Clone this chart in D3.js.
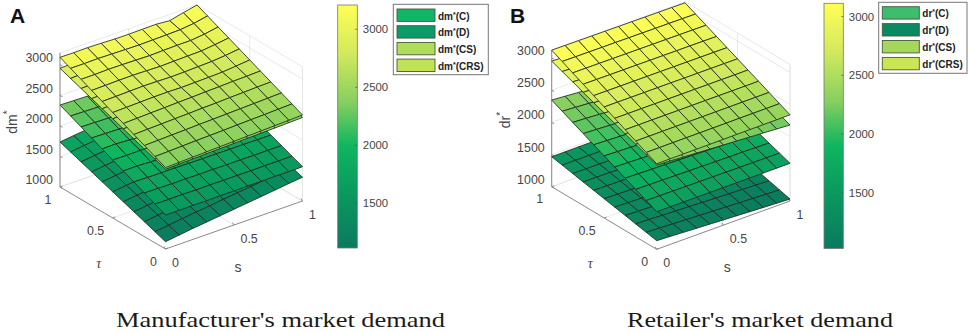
<!DOCTYPE html>
<html>
<head>
<meta charset="utf-8">
<style>
html, body { margin: 0; padding: 0; background: #fff; }
svg { display: block; font-family: "Liberation Sans", Arial, sans-serif; }
</style>
<script src="https://cdn.jsdelivr.net/npm/d3@7"></script>
</head>
<body>
<svg id="viz"></svg>
<script>
var width = 969;
var height = 332;

var sVals = [0, 0.1, 0.2, 0.3, 0.4, 0.5, 0.6, 0.7, 0.8, 0.9, 1];
var tauVals = [0, 0.1, 0.2, 0.3, 0.4, 0.5, 0.6, 0.7, 0.8, 0.9, 1];
var planeTicks = [0, 0.5, 1];
var zTicks = [1000, 1500, 2000, 2500, 3000];
var cbarTicks = [1500, 2000, 2500, 3000];

// rows go by tau, columns by s. values
var dmD = [
	[1120, 1150, 1180, 1205, 1232, 1258, 1285, 1310, 1338, 1365, 1389],
	[1182, 1208, 1240, 1268, 1290, 1320, 1346, 1370, 1400, 1425, 1450],
	[1244, 1272, 1298, 1330, 1354, 1380, 1408, 1430, 1460, 1485, 1511],
	[1306, 1332, 1364, 1388, 1416, 1442, 1468, 1492, 1520, 1545, 1571],
	[1368, 1396, 1420, 1450, 1476, 1502, 1528, 1552, 1580, 1605, 1631],
	[1429, 1456, 1484, 1510, 1536, 1562, 1588, 1612, 1640, 1665, 1690],
	[1491, 1518, 1544, 1570, 1596, 1622, 1648, 1672, 1700, 1725, 1750],
	[1553, 1580, 1606, 1632, 1658, 1684, 1710, 1734, 1760, 1785, 1810],
	[1615, 1642, 1668, 1694, 1720, 1746, 1770, 1795, 1820, 1845, 1870],
	[1676, 1703, 1729, 1755, 1781, 1806, 1831, 1855, 1881, 1905, 1930],
	[1738, 1764, 1790, 1816, 1842, 1866, 1892, 1916, 1942, 1966, 1990]
];
var dmC = [
	[1557, 1555, 1558, 1556, 1560, 1558, 1561, 1559, 1562, 1560, 1562],
	[1636, 1632, 1635, 1630, 1634, 1630, 1632, 1630, 1633, 1631, 1634],
	[1715, 1712, 1708, 1710, 1706, 1708, 1704, 1706, 1703, 1705, 1705],
	[1794, 1790, 1786, 1788, 1783, 1780, 1782, 1778, 1780, 1776, 1777],
	[1873, 1875, 1864, 1862, 1860, 1858, 1856, 1854, 1852, 1850, 1848],
	[1951, 1947, 1950, 1940, 1936, 1932, 1930, 1928, 1925, 1922, 1920],
	[2030, 2035, 2020, 2016, 2012, 2008, 2004, 2001, 1997, 1994, 1991],
	[2109, 2103, 2098, 2094, 2089, 2085, 2081, 2077, 2073, 2069, 2063],
	[2188, 2182, 2176, 2171, 2166, 2162, 2157, 2153, 2149, 2145, 2134],
	[2266, 2260, 2254, 2248, 2243, 2238, 2233, 2229, 2225, 2221, 2206],
	[2344, 2338, 2332, 2326, 2320, 2315, 2310, 2305, 2300, 2295, 2277]
];
var dmCS = [
	[2307, 2313, 2320, 2326, 2332, 2338, 2344, 2350, 2356, 2363, 2369],
	[2371, 2378, 2384, 2390, 2397, 2403, 2409, 2415, 2422, 2428, 2435],
	[2435, 2442, 2448, 2455, 2461, 2467, 2474, 2480, 2487, 2493, 2500],
	[2499, 2506, 2512, 2519, 2526, 2532, 2539, 2545, 2552, 2559, 2566],
	[2563, 2570, 2577, 2584, 2590, 2597, 2604, 2611, 2617, 2624, 2631],
	[2627, 2634, 2641, 2648, 2655, 2662, 2669, 2676, 2683, 2690, 2697],
	[2690, 2698, 2705, 2712, 2720, 2727, 2734, 2741, 2749, 2756, 2763],
	[2754, 2762, 2770, 2777, 2784, 2792, 2799, 2807, 2814, 2822, 2829],
	[2818, 2826, 2834, 2842, 2849, 2857, 2865, 2872, 2880, 2887, 2895],
	[2882, 2890, 2898, 2906, 2914, 2922, 2930, 2938, 2946, 2953, 2961],
	[2946, 2954, 2962, 2970, 2979, 2987, 2995, 3003, 3011, 3019, 3027]
];
var dmCRS = [
	[2335, 2342, 2350, 2357, 2365, 2372, 2380, 2387, 2395, 2402, 2410],
	[2414, 2421, 2429, 2438, 2444, 2450, 2460, 2467, 2473, 2482, 2489],
	[2493, 2500, 2509, 2515, 2524, 2530, 2538, 2545, 2552, 2560, 2568],
	[2572, 2580, 2587, 2595, 2601, 2611, 2616, 2626, 2632, 2641, 2647],
	[2651, 2658, 2667, 2673, 2682, 2688, 2697, 2703, 2712, 2717, 2725],
	[2730, 2735, 2742, 2748, 2750, 2745, 2750, 2755, 2762, 2782, 2804],
	[2809, 2813, 2820, 2825, 2822, 2815, 2820, 2828, 2835, 2855, 2883],
	[2888, 2892, 2898, 2900, 2895, 2888, 2895, 2900, 2905, 2930, 2961],
	[2968, 2969, 2975, 2973, 2968, 2963, 2970, 2975, 2975, 3000, 3040],
	[3047, 3046, 3050, 3044, 3040, 3036, 3040, 3044, 3050, 3075, 3119],
	[3126, 3123, 3126, 3120, 3111, 3110, 3113, 3116, 3097, 3149, 3197]
];

var drD = [
	[1134, 1124, 1113, 1102, 1092, 1081, 1071, 1060, 1050, 1040, 1030],
	[1167, 1158, 1149, 1139, 1130, 1120, 1111, 1101, 1092, 1083, 1075],
	[1200, 1193, 1184, 1175, 1168, 1159, 1151, 1142, 1135, 1127, 1119],
	[1234, 1227, 1220, 1212, 1205, 1198, 1191, 1184, 1177, 1170, 1164],
	[1267, 1261, 1255, 1249, 1243, 1237, 1231, 1225, 1219, 1214, 1208],
	[1300, 1295, 1291, 1285, 1281, 1276, 1271, 1266, 1262, 1257, 1252],
	[1333, 1330, 1326, 1322, 1319, 1314, 1311, 1307, 1304, 1300, 1297],
	[1366, 1364, 1362, 1359, 1357, 1353, 1351, 1348, 1346, 1344, 1342],
	[1400, 1398, 1397, 1396, 1394, 1392, 1391, 1390, 1388, 1387, 1386],
	[1433, 1433, 1433, 1432, 1432, 1431, 1431, 1431, 1431, 1431, 1431],
	[1466, 1467, 1468, 1469, 1470, 1470, 1471, 1472, 1473, 1474, 1475]
];
var drC = [
	[1585, 1585, 1585, 1585, 1585, 1585, 1585, 1585, 1586, 1586, 1586],
	[1661, 1660, 1658, 1657, 1655, 1654, 1652, 1650, 1650, 1648, 1647],
	[1737, 1734, 1731, 1728, 1725, 1722, 1719, 1716, 1714, 1710, 1707],
	[1814, 1809, 1804, 1800, 1795, 1791, 1786, 1781, 1777, 1773, 1768],
	[1890, 1884, 1877, 1871, 1865, 1859, 1853, 1847, 1841, 1835, 1829],
	[1966, 1958, 1951, 1943, 1935, 1928, 1920, 1912, 1905, 1897, 1890],
	[2042, 2033, 2024, 2015, 2005, 1996, 1987, 1977, 1969, 1959, 1950],
	[2118, 2108, 2097, 2086, 2075, 2065, 2054, 2043, 2033, 2021, 2011],
	[2195, 2183, 2170, 2158, 2145, 2133, 2121, 2108, 2096, 2084, 2072],
	[2271, 2257, 2243, 2229, 2215, 2202, 2188, 2174, 2160, 2146, 2132],
	[2347, 2332, 2316, 2301, 2285, 2270, 2255, 2239, 2224, 2208, 2193]
];
var drCS = [
	[2311, 2298, 2285, 2272, 2259, 2246, 2234, 2221, 2208, 2195, 2182],
	[2375, 2363, 2350, 2338, 2325, 2313, 2301, 2288, 2276, 2263, 2251],
	[2439, 2427, 2415, 2403, 2391, 2379, 2368, 2356, 2344, 2332, 2320],
	[2504, 2492, 2480, 2469, 2457, 2446, 2435, 2423, 2412, 2400, 2388],
	[2568, 2557, 2545, 2534, 2523, 2512, 2502, 2491, 2480, 2468, 2457],
	[2632, 2621, 2611, 2600, 2590, 2579, 2569, 2558, 2548, 2537, 2526],
	[2696, 2686, 2676, 2666, 2656, 2646, 2635, 2625, 2615, 2605, 2595],
	[2760, 2751, 2741, 2731, 2722, 2712, 2702, 2693, 2683, 2673, 2664],
	[2825, 2816, 2806, 2797, 2788, 2779, 2769, 2760, 2751, 2741, 2732],
	[2889, 2880, 2871, 2862, 2854, 2845, 2836, 2828, 2819, 2810, 2801],
	[2953, 2945, 2936, 2928, 2920, 2912, 2903, 2895, 2887, 2878, 2870]
];
var drCRS = [
	[2330, 2331, 2332, 2333, 2334, 2335, 2336, 2337, 2338, 2339, 2340],
	[2409, 2410, 2411, 2412, 2412, 2413, 2414, 2415, 2415, 2416, 2417],
	[2489, 2489, 2490, 2490, 2491, 2491, 2492, 2492, 2493, 2493, 2494],
	[2568, 2568, 2569, 2569, 2569, 2569, 2570, 2570, 2570, 2570, 2571],
	[2648, 2647, 2648, 2647, 2648, 2647, 2648, 2647, 2648, 2647, 2648],
	[2727, 2727, 2726, 2726, 2726, 2726, 2725, 2725, 2725, 2725, 2724],
	[2806, 2806, 2805, 2805, 2804, 2804, 2803, 2803, 2802, 2802, 2801],
	[2886, 2885, 2884, 2883, 2883, 2882, 2881, 2880, 2880, 2879, 2878],
	[2965, 2964, 2963, 2962, 2961, 2960, 2959, 2958, 2957, 2956, 2955],
	[3045, 3043, 3042, 3040, 3040, 3038, 3037, 3035, 3035, 3033, 3032],
	[3124, 3122, 3121, 3119, 3118, 3116, 3115, 3113, 3112, 3110, 3109]
];

var legendKeys = ["C", "D", "CS", "CRS"];
var legendColorsA = ["#10b568", "#0a9b68", "#b0dc5c", "#c0e355"];
var legendColorsB = ["#3dbd6e", "#0a8a62", "#a5d85a", "#cbe655"];

// colormap of the bar, positions are fractions of its height
var mapStops = [0, 0.22, 0.42, 0.6, 0.8, 1];
var mapColors = ["#0b7a5f", "#0a985f", "#0fb55f", "#86cf60", "#d2e95d", "#ffff55"];

var svg = d3.select("#viz")
	.attr("width", width)
	.attr("height", height)
	.style("display", "block")

var line = d3.line();

function makeGradient(id) {
	let grad = svg.append("defs").append("linearGradient")
		.attr("id", id)
		.attr("x1", 0).attr("x2", 0).attr("y1", 1).attr("y2", 0)
	mapStops.forEach((f, i) => {
		grad.append("stop")
			.attr("offset", f)
			.attr("stop-color", mapColors[i])
	})
}

function drawPanel(p) {
	let g = svg.append("g").attr("class", "panel-" + p.letter)

	// the three axes add up to a screen position
	let sX = d3.scaleLinear().domain([0, 1]).range([0, p.sVec[0]])
	let sY = d3.scaleLinear().domain([0, 1]).range([0, p.sVec[1]])
	let tX = d3.scaleLinear().domain([0, 1]).range([0, p.tauVec[0]])
	let tY = d3.scaleLinear().domain([0, 1]).range([0, p.tauVec[1]])
	let zY = d3.scaleLinear().domain([1000, 3000]).range([0, -p.zSpan])
	let px = (s, t) => p.origin[0] + sX(s) + tX(t)
	let py = (s, t, z) => p.origin[1] + sY(s) + tY(t) + zY(z)
	let pt = (s, t, z) => [px(s, t), py(s, t, z)]

	let color = d3.scaleLinear()
		.domain(mapStops.map(f => p.cMin + f * (p.cMax - p.cMin)))
		.range(mapColors)

	// back walls and floor grid
	let wall = "#e3e3e3"
	let segs = []
	zTicks.forEach(z => {
		segs.push([pt(0, 1, z), pt(1, 1, z)])
		segs.push([pt(1, 1, z), pt(1, 0, z)])
	})
	segs.push([pt(1, 1, p.zTop), pt(1, 1, 1000)])
	segs.push([pt(1, 0, p.zTop), pt(1, 0, 1000)])
	segs.push([pt(0, 1, p.zTop), pt(1, 1, p.zTop)])
	segs.push([pt(1, 1, p.zTop), pt(1, 0, p.zTop)])
	segs.push([pt(0, 1, 1000), pt(1, 1, 1000)])
	segs.push([pt(1, 1, 1000), pt(1, 0, 1000)])
	segs.push([pt(0.5, 0, 1000), pt(0.5, 1, 1000)])
	segs.push([pt(0, 0.5, 1000), pt(1, 0.5, 1000)])
	planeTicks.forEach(v => {
		segs.push([pt(v, 1, 1000), pt(v, 1, p.zTop)])
		segs.push([pt(1, v, 1000), pt(1, v, p.zTop)])
	})
	g.selectAll(".wall").data(segs).join("path")
		.attr("class", "wall")
		.attr("d", d => line(d))
		.attr("fill", "none")
		.attr("stroke", wall)
		.attr("stroke-width", 0.8)

	// axis lines
	let axisColor = "#8a8a8a"
	let axes = [
		[pt(0, 1, 1000), pt(0, 0, 1000)],
		[pt(0, 0, 1000), pt(1, 0, 1000)],
		[pt(0, 1, 1000), pt(0, 1, p.zTop)]
	]
	planeTicks.forEach(v => {
		axes.push([pt(v, 0, 1000), [px(v, 0) - 1.5, py(v, 0, 1000) - 2.5]])
		axes.push([pt(0, v, 1000), [px(0, v) + 2.5, py(0, v, 1000) - 1]])
	})
	zTicks.forEach(z => {
		axes.push([pt(0, 1, z), [px(0, 1) + 2.5, py(0, 1, z) + 1.2]])
	})
	g.selectAll(".axis").data(axes).join("path")
		.attr("class", "axis")
		.attr("d", d => line(d))
		.attr("fill", "none")
		.attr("stroke", axisColor)
		.attr("stroke-width", 1)

	// surfaces, lowest first so the upper ones cover them
	p.surfaces.forEach(surf => {
		let cells = []
		for (let i = tauVals.length - 2; i >= 0; i--) {
			for (let j = sVals.length - 2; j >= 0; j--) {
				cells.push({
					poly: [
						pt(sVals[j], tauVals[i], surf[i][j]),
						pt(sVals[j + 1], tauVals[i], surf[i][j + 1]),
						pt(sVals[j + 1], tauVals[i + 1], surf[i + 1][j + 1]),
						pt(sVals[j], tauVals[i + 1], surf[i + 1][j])
					],
					z: d3.mean([surf[i][j], surf[i][j + 1], surf[i + 1][j + 1], surf[i + 1][j]])
				})
			}
		}
		g.append("g").selectAll("path").data(cells).join("path")
			.attr("d", d => line(d.poly) + "Z")
			.attr("fill", d => color(d.z))
			.attr("stroke", "#1f2d1c")
			.attr("stroke-width", 0.85)
			.attr("stroke-linejoin", "round")
	})

	// tick labels
	let labelColor = "#454545"
	g.selectAll(".ztick").data(zTicks).join("text")
		.attr("class", "ztick")
		.attr("x", px(0, 1) - 7)
		.attr("y", d => py(0, 1, d) - 3)
		.attr("text-anchor", "end")
		.attr("font-size", p.tickSize)
		.attr("fill", labelColor)
		.text(d => d)
	g.selectAll(".stick").data(planeTicks).join("text")
		.attr("class", "stick")
		.attr("x", d => px(d, 0) + 6.5)
		.attr("y", d => py(d, 0, 1000) + 17.5)
		.attr("font-size", p.tickSize)
		.attr("fill", labelColor)
		.text(d => d)
	g.selectAll(".ttick").data(planeTicks).join("text")
		.attr("class", "ttick")
		.attr("x", d => px(0, d) - 8.5)
		.attr("y", d => py(0, d, 1000) + 16.5)
		.attr("text-anchor", "end")
		.attr("font-size", p.tickSize)
		.attr("fill", labelColor)
		.text(d => d)

	// axis titles
	g.append("text")
		.attr("x", px(0.5, 0) + 4)
		.attr("y", py(0.5, 0, 1000) + 47)
		.attr("text-anchor", "middle")
		.attr("font-size", 14)
		.attr("fill", labelColor)
		.text("s")
	g.append("text")
		.attr("x", px(0, 0.5) - 14)
		.attr("y", py(0, 0.5, 1000) + 50)
		.attr("text-anchor", "middle")
		.attr("font-size", 14)
		.attr("font-style", "italic")
		.style("font-family", "'Liberation Serif', serif")
		.attr("fill", labelColor)
		.text("\u03c4")
	let yl = g.append("text")
		.attr("transform", "translate(" + p.zLabel[0] + "," + p.zLabel[1] + ") rotate(-90)")
		.attr("text-anchor", "middle")
		.attr("font-size", 14)
		.attr("fill", labelColor)
	yl.append("tspan").text(p.name)
	yl.append("tspan").attr("dy", -6).attr("font-size", 10).text("*")

	// panel letter and caption
	g.append("text")
		.attr("x", p.letterX)
		.attr("y", 23)
		.attr("font-size", 21)
		.attr("font-weight", "bold")
		.attr("fill", "#111")
		.text(p.letter)
	g.append("text")
		.attr("x", p.caption[0])
		.attr("y", 327)
		.style("font-family", "'Liberation Serif', serif")
		.attr("font-size", 21)
		.attr("textLength", p.caption[1])
		.attr("lengthAdjust", "spacingAndGlyphs")
		.attr("fill", "#1a1a1a")
		.text(p.captionText)

	// colorbar
	let cbY = d3.scaleLinear().domain([p.cMin, p.cMax]).range([p.bar[3], p.bar[2]])
	let gradId = "cb" + p.letter
	makeGradient(gradId)
	g.append("rect")
		.attr("x", p.bar[0])
		.attr("y", p.bar[2])
		.attr("width", p.bar[1] - p.bar[0])
		.attr("height", p.bar[3] - p.bar[2])
		.attr("fill", "url(#" + gradId + ")")
		.attr("stroke", "#777")
		.attr("stroke-width", 0.8)
	g.selectAll(".cbmark").data(cbarTicks).join("line")
		.attr("class", "cbmark")
		.attr("x1", p.bar[1] - 2)
		.attr("x2", p.bar[1])
		.attr("y1", d => cbY(d))
		.attr("y2", d => cbY(d))
		.attr("stroke", "#555")
		.attr("stroke-width", 0.8)
	g.selectAll(".cblabel").data(cbarTicks).join("text")
		.attr("class", "cblabel")
		.attr("x", p.bar[1] + 5.5)
		.attr("y", d => cbY(d) + 4)
		.attr("font-size", 11.4)
		.attr("fill", labelColor)
		.text(d => d)

	// legend
	g.append("rect")
		.attr("x", p.legend.x)
		.attr("y", p.legend.y)
		.attr("width", p.legend.w)
		.attr("height", p.legend.h)
		.attr("fill", "#fff")
		.attr("stroke", "#777")
		.attr("stroke-width", 1)
	let rows = g.selectAll(".lrow").data(legendKeys).join("g")
		.attr("class", "lrow")
		.attr("transform", (d, i) => "translate(" + p.legend.sx + "," + (p.legend.sy + i * p.legend.step) + ")")
	rows.append("rect")
		.attr("width", p.legend.sw)
		.attr("height", 12.4)
		.attr("fill", (d, i) => p.legendColors[i])
		.attr("stroke", "#4a5a3a")
		.attr("stroke-width", 0.9)
	let lt = rows.append("text")
		.attr("x", p.legend.sw + 3)
		.attr("y", 10.5)
		.attr("font-size", 10)
		.attr("font-weight", "bold")
		.attr("fill", "#222")
	lt.append("tspan").text(p.name)
	lt.append("tspan").attr("dy", -3).attr("font-size", 7).text("*")
	lt.append("tspan").attr("dy", 3).text(d => "(" + d + ")")
}

drawPanel({
	letter: "A",
	letterX: 10,
	name: "dm",
	captionText: "Manufacturer's market demand",
	caption: [116, 329],
	origin: [165.5, 249],
	sVec: [137, -48],
	tauVec: [-105.5, -62],
	zSpan: 122,
	zTop: 3200,
	zLabel: [17, 122],
	tickSize: 12.4,
	cMin: 1115,
	cMax: 3209,
	bar: [337.7, 357.3, 5, 248],
	legendColors: legendColorsA,
	legend: { x: 393.3, y: 4.3, w: 95, h: 70.4, sx: 397, sy: 9, sw: 38, step: 16.7 },
	surfaces: [dmD, dmC, dmCS, dmCRS]
})

drawPanel({
	letter: "B",
	letterX: 510,
	name: "dr",
	captionText: "Retailer's market demand",
	caption: [627, 266],
	origin: [656.7, 249.3],
	sVec: [133.3, -48.3],
	tauVec: [-105, -62.6],
	zSpan: 128.6,
	zTop: 3125,
	zLabel: [510, 120],
	tickSize: 12.4,
	cMin: 1025,
	cMax: 3114,
	bar: [824, 843.3, 3.3, 248.5],
	legendColors: legendColorsB,
	legend: { x: 878.7, y: 2.3, w: 88.3, h: 71, sx: 882.3, sy: 6.7, sw: 37, step: 16.9 },
	surfaces: [drD, drC, drCS, drCRS]
})
</script>
</body>
</html>
